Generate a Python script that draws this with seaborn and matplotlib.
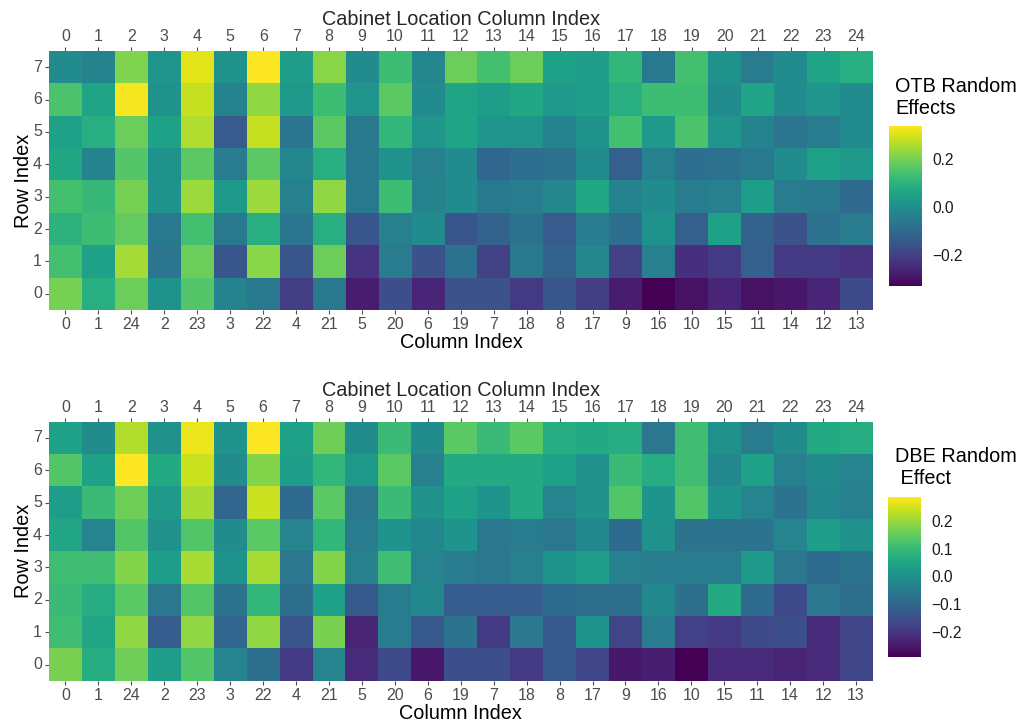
import numpy as np
import pandas as pd
import matplotlib
matplotlib.use("Agg")
import matplotlib.pyplot as plt
import seaborn as sns

# Cabinet grid: rows 7..0 top to bottom, 25 cabinet positions left to right
row_order = [7, 6, 5, 4, 3, 2, 1, 0]
cabinet_positions = list(range(25))
column_index = [0, 1, 24, 2, 23, 3, 22, 4, 21, 5, 20, 6, 19, 7, 18, 8, 17, 9, 16, 10, 15, 11, 14, 12, 13]

# OTB random effects, one list per row (in cabinet-position order)
otb_row7 = [-0.01, -0.03, 0.21, 0.02, 0.31, 0.01, 0.34, 0.04, 0.22, -0.01, 0.13, -0.02, 0.19,
            0.14, 0.19, 0.05, 0.04, 0.11, -0.06, 0.14, 0.01, -0.05, -0.01, 0.06, 0.09]
otb_row6 = [0.15, 0.06, 0.33, 0.01, 0.28, -0.03, 0.23, 0.03, 0.13, 0.02, 0.17, -0.01, 0.06,
            0.04, 0.07, 0.03, 0.04, 0.09, 0.13, 0.13, -0.01, 0.06, -0.01, 0.02, -0.01]
otb_row5 = [0.05, 0.09, 0.19, 0.05, 0.26, -0.14, 0.28, -0.07, 0.17, -0.06, 0.11, 0.02, 0.06,
            0.02, 0.02, -0.03, 0.01, 0.14, 0.03, 0.15, 0.02, -0.03, -0.07, -0.05, -0.01]
otb_row4 = [0.07, -0.03, 0.16, 0.01, 0.17, -0.05, 0.17, -0.02, 0.09, -0.06, 0.01, -0.04, -0.01,
            -0.11, -0.09, -0.08, -0.01, -0.13, -0.04, -0.09, -0.08, -0.06, -0.01, 0.05, 0.03]
otb_row3 = [0.14, 0.12, 0.20, 0.01, 0.24, 0.03, 0.24, -0.04, 0.23, -0.06, 0.13, -0.03, -0.01,
            -0.06, -0.05, -0.02, 0.07, -0.03, -0.01, -0.05, -0.04, 0.04, -0.05, -0.06, -0.10]
otb_row2 = [0.10, 0.13, 0.18, -0.06, 0.14, -0.06, 0.09, -0.07, 0.09, -0.15, -0.04, -0.01, -0.15,
            -0.12, -0.08, -0.14, -0.05, -0.09, 0.01, -0.13, 0.05, -0.12, -0.16, -0.08, -0.05]
otb_row1 = [0.14, 0.05, 0.25, -0.07, 0.19, -0.15, 0.22, -0.15, 0.19, -0.23, -0.05, -0.16, -0.08,
            -0.20, -0.06, -0.12, -0.02, -0.20, -0.04, -0.24, -0.22, -0.13, -0.22, -0.22, -0.23]
otb_row0 = [0.20, 0.09, 0.19, 0.01, 0.16, -0.03, -0.06, -0.21, -0.06, -0.28, -0.17, -0.26, -0.16,
            -0.16, -0.22, -0.15, -0.21, -0.28, -0.33, -0.30, -0.26, -0.30, -0.29, -0.26, -0.18]

# DBE random effects, one list per row (in cabinet-position order)
dbe_row7 = [0.04, -0.01, 0.22, 0.00, 0.27, 0.01, 0.286, 0.04, 0.16, -0.01, 0.10, -0.01, 0.14,
            0.10, 0.14, 0.07, 0.06, 0.07, -0.06, 0.11, 0.00, -0.05, -0.01, 0.06, 0.07]
dbe_row6 = [0.13, 0.04, 0.285, 0.06, 0.24, -0.01, 0.18, 0.03, 0.09, 0.02, 0.14, -0.04, 0.06,
            0.06, 0.06, 0.04, 0.00, 0.10, 0.07, 0.11, -0.02, 0.04, -0.04, -0.01, -0.03]
dbe_row5 = [0.03, 0.10, 0.16, 0.02, 0.21, -0.10, 0.24, -0.09, 0.14, -0.06, 0.10, 0.00, 0.04,
            0.01, 0.06, -0.03, 0.00, 0.13, 0.01, 0.13, 0.01, -0.03, -0.07, -0.02, -0.04]
dbe_row4 = [0.05, -0.03, 0.13, 0.00, 0.13, -0.01, 0.14, -0.03, 0.09, -0.05, 0.01, -0.02, 0.01,
            -0.06, -0.05, -0.06, -0.02, -0.09, 0.00, -0.07, -0.07, -0.07, -0.03, 0.03, 0.00]
dbe_row3 = [0.11, 0.11, 0.18, 0.03, 0.21, 0.01, 0.21, -0.06, 0.18, -0.04, 0.11, -0.03, -0.05,
            -0.06, -0.04, 0.01, 0.03, -0.04, -0.05, -0.05, -0.05, 0.02, -0.06, -0.09, -0.07]
dbe_row2 = [0.10, 0.07, 0.14, -0.06, 0.13, -0.07, 0.09, -0.08, 0.04, -0.13, -0.05, -0.02, -0.12,
            -0.12, -0.12, -0.09, -0.08, -0.08, -0.02, -0.08, 0.06, -0.09, -0.16, -0.06, -0.08]
dbe_row1 = [0.11, 0.05, 0.19, -0.12, 0.19, -0.10, 0.19, -0.14, 0.17, -0.23, -0.05, -0.13, -0.07,
            -0.19, -0.06, -0.13, 0.01, -0.17, -0.05, -0.18, -0.19, -0.16, -0.15, -0.22, -0.17]
dbe_row0 = [0.17, 0.07, 0.16, 0.03, 0.13, -0.03, -0.08, -0.19, -0.03, -0.22, -0.16, -0.25, -0.15,
            -0.15, -0.19, -0.13, -0.17, -0.25, -0.24, -0.288, -0.22, -0.22, -0.23, -0.22, -0.17]

otb_ticks = [-0.2, 0.0, 0.2]
dbe_ticks = [-0.2, -0.1, 0.0, 0.1, 0.2]

otb_rows = [otb_row7, otb_row6, otb_row5, otb_row4, otb_row3, otb_row2, otb_row1, otb_row0]
dbe_rows = [dbe_row7, dbe_row6, dbe_row5, dbe_row4, dbe_row3, dbe_row2, dbe_row1, dbe_row0]

sns.set_theme(style="white")
plt.rcParams["font.family"] = ["Liberation Sans", "DejaVu Sans"]

W, H = 1024, 727
fig = plt.figure(figsize=(W / 100, H / 100), dpi=100)

TICK_GREY = "#4d4d4d"
TITLE_SIZE = 14.3
TICK_SIZE = 11.5


def px_axes(x0, y0, x1, y1):
    return fig.add_axes([x0 / W, 1 - y1 / H, (x1 - x0) / W, (y1 - y0) / H])


def draw_panel(ax, cax, rows, ticks, legend_title, title_xy):
    frame = pd.DataFrame(rows, index=row_order, columns=column_index)
    sns.heatmap(frame, ax=ax, cmap="viridis", cbar_ax=cax, linewidths=0,
                xticklabels=column_index, yticklabels=row_order,
                cbar_kws={"ticks": ticks})
    ax.set_xlabel("Column Index", fontsize=TITLE_SIZE, color="black", labelpad=1)
    ax.set_ylabel("Row Index", fontsize=TITLE_SIZE, color="black", labelpad=0)
    ax.tick_params(axis="both", which="major", length=3, width=0.8, pad=2,
                   color=TICK_GREY, labelcolor=TICK_GREY, labelsize=TICK_SIZE,
                   bottom=True, left=True)
    plt.setp(ax.get_xticklabels(), rotation=0)
    plt.setp(ax.get_yticklabels(), rotation=0)
    for s in ax.spines.values():
        s.set_visible(False)

    top = ax.secondary_xaxis("top")
    top.set_xticks(np.arange(len(cabinet_positions)) + 0.5,
                   labels=[str(p) for p in cabinet_positions])
    top.tick_params(length=3, width=0.8, pad=2, color=TICK_GREY,
                    labelcolor=TICK_GREY, labelsize=TICK_SIZE)
    top.set_xlabel("Cabinet Location Column Index", fontsize=TITLE_SIZE, labelpad=3)
    for s in top.spines.values():
        s.set_visible(False)

    cbar = ax.collections[0].colorbar
    cbar.outline.set_visible(False)
    cax.yaxis.set_ticks_position("both")
    cax.tick_params(axis="y", direction="in", length=5, width=1.0,
                    color=(1, 1, 1, 0.8), left=True, right=True,
                    labelleft=False, labelright=True, labelsize=11.2,
                    labelcolor="#1a1a1a", pad=8)
    cax.set_yticklabels([f"{t:.1f}".replace("-", "\u2212") for t in ticks])

    fig.text(title_xy[0] / W, 1 - title_xy[1] / H, legend_title,
             fontsize=TITLE_SIZE, color="black", ha="left", va="top",
             linespacing=1.2)


ax_otb = px_axes(49, 51, 873, 310)
cax_otb = px_axes(889, 126, 921.5, 286)
draw_panel(ax_otb, cax_otb, otb_rows, otb_ticks, "OTB Random\nEffects", (895, 77))

ax_dbe = px_axes(49, 421.7, 872.5, 680.7)
cax_dbe = px_axes(888, 496.7, 920.5, 656.7)
draw_panel(ax_dbe, cax_dbe, dbe_rows, dbe_ticks, "DBE Random\n Effect", (895, 447))

fig.savefig("out.png", dpi=100, facecolor="white")
